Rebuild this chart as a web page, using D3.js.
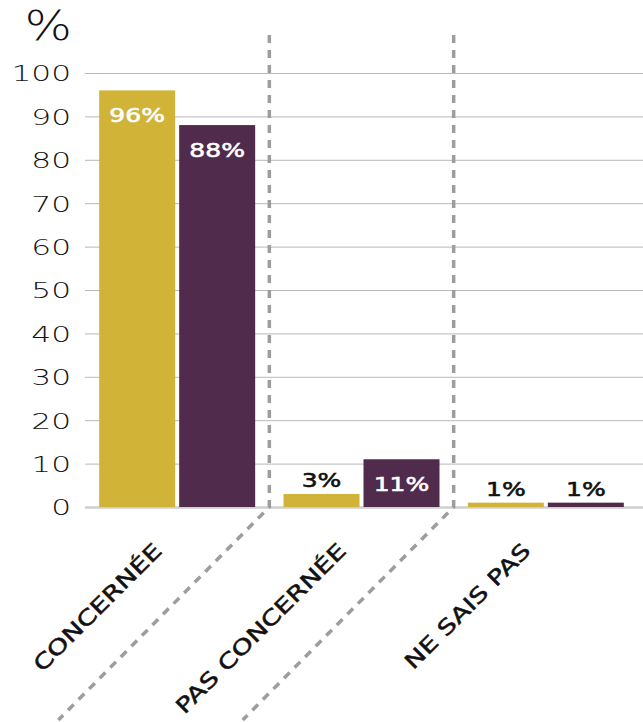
<!DOCTYPE html>
<html>
<head>
<meta charset="utf-8">
<script src="https://cdn.jsdelivr.net/npm/d3@7"></script>
<style>
  body { margin: 0; background: #fff; }
  svg { display: block; }
</style>
</head>
<body>
<svg width="643" height="722"></svg>
<script>
// data
var categories = ["CONCERNÉE", "PAS CONCERNÉE", "NE SAIS PAS"];
var seriesNames = ["jaune", "violet"];
var valuesJaune = [96, 3, 1];
var valuesViolet = [88, 11, 1];
var yTicks = [0, 10, 20, 30, 40, 50, 60, 70, 80, 90, 100];

var colors = { jaune: "#d1b338", violet: "#512b4b" };

var svg = d3.select("svg"),
    width = +svg.attr("width"),
    height = +svg.attr("height");

var mLeft = 85, mRight = 638, mTop = 73, mBottom = 507;

var rows = categories.map(function(c, i) {
  return { cat: c, jaune: valuesJaune[i], violet: valuesViolet[i] };
});

// scales
var x0 = d3.scaleBand().domain(categories).range([mLeft, mRight]);
var pad = (x0.bandwidth() - 156) / 2;
var x1 = d3.scaleBand().domain(seriesNames)
    .range([pad, x0.bandwidth() - pad]).paddingInner(0.05);
var y = d3.scaleLinear().domain([0, 100]).range([mBottom, mTop]);

// stretch text horizontally, the original font is a wide one
function stretch(sel, f) {
  sel.each(function() {
    var len = this.getComputedTextLength();
    d3.select(this).attr("textLength", len * f).attr("lengthAdjust", "spacingAndGlyphs");
  });
}

// gridlines
svg.append("g")
    .attr("transform", "translate(" + mLeft + ",0)")
    .call(d3.axisLeft(y).tickValues(yTicks).tickSize(-(width - mLeft)).tickFormat(""))
    .call(function(g) {
      g.select(".domain").remove();
      g.selectAll(".tick line")
        .attr("stroke", function(d) { return d === 0 ? "#cfcfcf" : "#b8b8b8"; })
        .attr("stroke-width", function(d) { return d === 0 ? 2.5 : 1; });
    });

// y axis labels
svg.append("g")
    .attr("transform", "translate(71,0)")
    .call(d3.axisLeft(y).tickValues(yTicks).tickSize(0).tickPadding(0))
    .call(function(g) {
      g.select(".domain").remove();
      g.selectAll("text")
        .attr("fill", "#111")
        .style("font-family", "DejaVu Sans")
        .style("font-weight", 200)
        .style("font-size", "22px")
        .attr("dy", "0.36em");
    })
    .selectAll("text").call(stretch, 1.42);

svg.append("text")
    .attr("x", 72).attr("y", 40)
    .attr("text-anchor", "end")
    .attr("fill", "#111")
    .style("font-family", "DejaVu Sans")
    .style("font-weight", 200)
    .style("font-size", "40px")
    .text("%")
    .call(stretch, 1.25);

// dashed dividers between groups
categories.slice(1).forEach(function(c) {
  var xd = x0(c);
  svg.append("path")
    .attr("d", d3.line()([[xd, 35], [xd, mBottom], [xd - 211, 720]]))
    .attr("fill", "none")
    .attr("stroke", "#9d9d9d")
    .attr("stroke-width", 3.5)
    .attr("stroke-dasharray", "8,7");
});

// bars
var groups = svg.append("g").selectAll("g")
  .data(rows)
  .enter().append("g")
    .attr("transform", function(d) { return "translate(" + x0(d.cat) + ",0)"; });

var cells = groups.selectAll("g")
  .data(function(d) { return seriesNames.map(function(k) { return { key: k, value: d[k] }; }); })
  .enter().append("g");

cells.append("rect")
    .attr("x", function(d) { return x1(d.key); })
    .attr("y", function(d) { return y(d.value); })
    .attr("width", x1.bandwidth())
    .attr("height", function(d) { return mBottom - y(d.value); })
    .attr("fill", function(d) { return colors[d.key]; });

cells.append("text")
    .attr("x", function(d) { return x1(d.key) + x1.bandwidth() / 2; })
    .attr("y", function(d) { return d.value >= 10 ? y(d.value) + 32 : y(d.value) - 7; })
    .attr("text-anchor", "middle")
    .attr("fill", function(d) { return d.value >= 10 ? "#fff" : "#111"; })
    .attr("stroke", function(d) { return d.value >= 10 ? "#fff" : "#111"; })
    .attr("stroke-width", 0.6)
    .style("font-family", "DejaVu Sans")
    .style("font-size", "20px")
    .text(function(d) { return d.value + "%"; })
    .call(stretch, 1.25);

// category labels, rotated
svg.append("g").selectAll("text")
  .data(categories)
  .enter().append("text")
    .attr("transform", function(d) {
      return "translate(" + (x0(d) + x0.bandwidth() / 2 - 14) + ",552) rotate(-45)";
    })
    .attr("text-anchor", "end")
    .attr("fill", "#111")
    .attr("stroke", "#111")
    .attr("stroke-width", 0.5)
    .style("font-family", "DejaVu Sans")
    .style("font-size", "21px")
    .text(function(d) { return d; })
    .call(stretch, 1.3);
</script>
</body>
</html>
